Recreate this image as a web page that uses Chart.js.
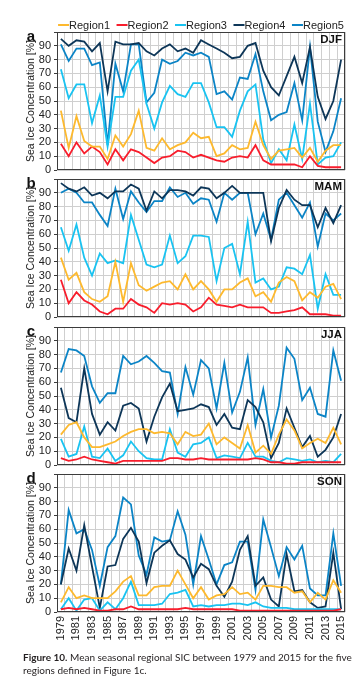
<!DOCTYPE html>
<html>
<head>
<meta charset="utf-8">
<script src="https://cdn.jsdelivr.net/npm/chart.js@4.4.1/dist/chart.umd.min.js"></script>
<style>
  html, body { margin: 0; padding: 0; background: #fff; }
  #wrap { position: relative; width: 362px; height: 686px; overflow: hidden; }
  #wrap canvas { position: absolute; left: 0; }
  #caption {
    position: absolute; left: 23px; top: 651px; width: 335px;
    font: 10px/12.5px Lato, "Open Sans", sans-serif; color: #231f20;
  }
</style>
</head>
<body>
<div id="wrap">
  <canvas id="panelA"></canvas>
  <canvas id="panelB"></canvas>
  <canvas id="panelC"></canvas>
  <canvas id="panelD"></canvas>
  <div id="caption"><b>Figure 10.</b> Mean seasonal regional SIC between 1979 and 2015 for the five regions defined in Figure 1c.</div>
</div>
<script>
// Years on the x axis
const years = [
  "1979", "1980", "1981", "1982", "1983", "1984", "1985", "1986", "1987", "1988",
  "1989", "1990", "1991", "1992", "1993", "1994", "1995", "1996", "1997", "1998",
  "1999", "2000", "2001", "2002", "2003", "2004", "2005", "2006", "2007", "2008",
  "2009", "2010", "2011", "2012", "2013", "2014", "2015"
];

const regionNames = ["Region1", "Region2", "Region3", "Region4", "Region5"];
const regionColors = ["#fdb92e", "#f81d2c", "#19c3f1", "#0d3658", "#0b84c6"];
const yTicks = [0, 10, 20, 30, 40, 50, 60, 70, 80, 90];

// DJF (winter) SIC, %
const djfRegion1 = [43, 16, 39, 21, 17, 17, 8, 25, 17, 26, 43, 16, 14, 23, 15, 18,
  20, 27, 23, 24, 10, 12, 18, 15, 16, 35, 18, 8, 14, 15, 16, 9, 16, 6, 14, 18, 18];
const djfRegion2 = [19, 10, 20, 12, 17, 13, 4, 15, 7, 15, 13, 9, 5, 9, 10, 14,
  13, 9, 11, 9, 7, 6, 9, 10, 9, 18, 7, 4, 4, 4, 4, 2, 10, 3, 2, 2, 2];
const djfRegion3 = [73, 52, 62, 62, 34, 54, 17, 53, 53, 72, 80, 48, 30, 49, 61, 55,
  53, 63, 63, 49, 31, 31, 24, 43, 57, 62, 22, 5, 15, 7, 33, 8, 48, 4, 9, 10, 20];
const djfRegion4 = [95, 90, 94, 93, 86, 92, 57, 93, 91, 91, 92, 86, 83, 88, 91, 86,
  88, 85, 94, 91, 88, 85, 81, 82, 90, 92, 72, 60, 54, 68, 82, 63, 89, 53, 37, 50, 80];
const djfRegion5 = [91, 79, 88, 88, 76, 78, 18, 77, 57, 91, 91, 49, 56, 80, 77, 79,
  85, 83, 85, 82, 55, 57, 51, 67, 66, 84, 57, 36, 40, 42, 63, 36, 89, 35, 13, 28, 52];

// MAM (spring)
const mamRegion1 = [43, 27, 32, 18, 13, 11, 15, 40, 11, 39, 23, 19, 22, 25, 26, 20,
  31, 20, 26, 20, 11, 20, 20, 25, 28, 15, 18, 11, 25, 29, 26, 12, 18, 14, 22, 24, 13];
const mamRegion2 = [27, 10, 18, 12, 9, 4, 2, 6, 6, 13, 9, 7, 3, 10, 9, 10,
  9, 4, 7, 14, 9, 8, 7, 9, 7, 7, 7, 3, 3, 4, 5, 7, 2, 2, 2, 1, 1];
const mamRegion3 = [65, 48, 67, 43, 30, 46, 39, 41, 39, 74, 56, 38, 36, 38, 59, 39,
  44, 59, 59, 58, 26, 50, 53, 31, 69, 25, 28, 20, 22, 36, 35, 31, 45, 6, 31, 16, 16];
const mamRegion4 = [97, 93, 91, 94, 88, 90, 86, 91, 91, 96, 93, 77, 91, 86, 92, 92,
  91, 88, 94, 93, 86, 90, 95, 90, 90, 90, 90, 55, 79, 92, 85, 81, 81, 65, 79, 68, 81];
const mamRegion5 = [90, 93, 90, 83, 83, 74, 66, 93, 71, 91, 83, 76, 84, 84, 94, 87,
  90, 82, 86, 85, 69, 90, 85, 90, 90, 60, 75, 56, 85, 90, 81, 72, 83, 51, 75, 70, 75];

// JJA (summer)
const jjaRegion1 = [22, 29, 31, 20, 13, 13, 15, 17, 21, 24, 26, 26, 23, 24, 23, 15,
  24, 21, 22, 30, 15, 20, 16, 12, 29, 9, 14, 8, 22, 33, 25, 12, 16, 19, 16, 27, 15];
const jjaRegion2 = [5, 3, 4, 6, 4, 3, 2, 1, 3, 3, 3, 3, 3, 3, 5, 5,
  4, 4, 5, 4, 4, 4, 4, 4, 4, 5, 4, 2, 2, 1, 1, 2, 2, 2, 2, 2, 2];
const jjaRegion3 = [19, 6, 8, 28, 6, 5, 12, 3, 7, 17, 10, 5, 4, 4, 26, 9,
  6, 15, 16, 20, 5, 7, 6, 5, 16, 6, 6, 3, 2, 5, 4, 3, 4, 2, 3, 2, 8];
const jjaRegion4 = [56, 34, 31, 70, 37, 22, 31, 25, 43, 45, 41, 17, 35, 49, 59, 39,
  40, 41, 44, 42, 29, 37, 27, 26, 47, 42, 31, 5, 16, 41, 27, 13, 21, 6, 11, 20, 37];
const jjaRegion5 = [67, 84, 83, 79, 57, 45, 52, 52, 79, 73, 75, 79, 74, 68, 67, 37,
  71, 51, 76, 70, 41, 74, 38, 53, 78, 29, 55, 20, 43, 85, 77, 47, 56, 37, 35, 83, 61];

// SON (autumn)
const sonRegion1 = [7, 18, 10, 12, 10, 10, 10, 15, 22, 26, 12, 12, 18, 19, 19, 30,
  20, 10, 18, 9, 12, 13, 18, 13, 14, 9, 19, 19, 18, 18, 14, 15, 7, 14, 9, 23, 14];
const sonRegion2 = [2, 3, 2, 3, 2, 1, 1, 2, 2, 4, 2, 2, 2, 2, 2, 2,
  3, 2, 2, 2, 2, 2, 2, 1, 1, 1, 1, 1, 1, 1, 1, 1, 1, 1, 1, 1, 2];
const sonRegion3 = [2, 10, 1, 9, 10, 1, 7, 2, 10, 22, 5, 5, 5, 6, 13, 14,
  16, 4, 5, 4, 5, 5, 6, 6, 5, 7, 4, 3, 3, 3, 2, 2, 2, 2, 2, 2, 2];
const sonRegion4 = [20, 46, 30, 63, 33, 3, 33, 34, 53, 61, 51, 21, 43, 48, 52, 42,
  38, 25, 35, 31, 19, 11, 22, 45, 55, 19, 25, 9, 4, 42, 15, 16, 7, 3, 4, 43, 2];
const sonRegion5 = [20, 74, 57, 60, 45, 19, 47, 55, 83, 78, 41, 27, 54, 51, 52, 73,
  56, 20, 55, 38, 20, 34, 36, 51, 51, 16, 67, 47, 26, 47, 38, 48, 17, 12, 12, 57, 19];

const FONT = '"Liberation Sans", Arial, sans-serif';
const panelHeight = 138;
const padTop = 20;

// Draws the frame, panel letter, season name and (on the first panel) the legend
const panelDecor = {
  id: "panelDecor",
  afterDatasetsDraw(chart, args, opts) {
    const a = chart.chartArea;
    const ctx = chart.ctx;
    ctx.save();
    ctx.strokeStyle = "#3c3c3c";
    ctx.lineWidth = 1;
    ctx.strokeRect(Math.round(a.left) + 0.5, Math.round(a.top) + 0.5,
      Math.round(a.width) - 1, Math.round(a.height) - 1);

    ctx.fillStyle = "#111";
    ctx.textBaseline = "alphabetic";
    ctx.font = "bold 15px " + FONT;
    ctx.textAlign = "center";
    ctx.fillText(opts.letter, 31, a.top + 8.5);

    ctx.font = "bold 11.5px " + FONT;
    ctx.textAlign = "right";
    ctx.fillText(opts.season, a.right - 3, a.top + 10.5);

    if (opts.legend) {
      ctx.font = "11px " + FONT;
      const items = chart.data.datasets.map(d => ({
        text: d.label, color: d.borderColor, w: ctx.measureText(d.label).width
      }));
      const lineW = 11;
      const gap = 6.5;
      const total = items.reduce((s, it) => s + lineW + it.w, 0) + gap * (items.length - 1);
      let x = (a.left + a.right) / 2 - total / 2;
      const y = a.top - 7;
      ctx.textAlign = "left";
      ctx.textBaseline = "middle";
      items.forEach(it => {
        ctx.strokeStyle = it.color;
        ctx.lineWidth = 2;
        ctx.beginPath();
        ctx.moveTo(x, y);
        ctx.lineTo(x + lineW, y);
        ctx.stroke();
        ctx.fillStyle = "#222";
        ctx.fillText(it.text, x + lineW, y + 0.5);
        x += lineW + it.w + gap;
      });
    }
    ctx.restore();
  }
};

function makePanel(id, top, series, letter, season, isFirst, isLast) {
  const canvas = document.getElementById(id);
  const topPad = isFirst ? top : padTop;
  const bottomPad = isLast ? 0 : 12;
  const xAxisH = isLast ? 40 : 0;
  const h = topPad + panelHeight + bottomPad + xAxisH;
  canvas.width = 362;
  canvas.height = h;
  canvas.style.top = (top - topPad) + "px";
  canvas.style.width = "362px";
  canvas.style.height = h + "px";

  return new Chart(canvas.getContext("2d"), {
    type: "line",
    data: {
      labels: years,
      datasets: series.map((vals, i) => ({
        label: regionNames[i],
        data: vals,
        borderColor: regionColors[i],
        backgroundColor: regionColors[i],
        borderWidth: 1.8,
        pointRadius: 0,
        tension: 0,
        fill: false
      }))
    },
    options: {
      responsive: false,
      animation: false,
      layout: { padding: { top: topPad, bottom: bottomPad, left: 0, right: 17 } },
      plugins: {
        legend: { display: false },
        tooltip: { enabled: false },
        panelDecor: { letter: letter, season: season, legend: isFirst }
      },
      scales: {
        x: {
          offset: true,
          grid: { offset: true, color: "#cfcfcf", lineWidth: 1, drawTicks: false },
          border: { display: false },
          ticks: {
            display: isLast,
            autoSkip: false,
            maxRotation: 90,
            minRotation: 90,
            padding: 4,
            color: "#222",
            font: { family: FONT, size: 11 },
            callback: (val, idx) => (idx % 2 === 0 ? years[idx] : "")
          },
          afterFit: s => { s.height = xAxisH; }
        },
        y: {
          min: 0,
          max: 100,
          afterBuildTicks: s => {
            s.ticks = yTicks.concat([100]).map(v => ({ value: v }));
          },
          grid: { color: "#cfcfcf", lineWidth: 1, tickLength: 3, tickColor: "#3c3c3c" },
          border: { display: false },
          ticks: {
            autoSkip: false,
            padding: 3,
            color: "#222",
            font: { family: FONT, size: 11 },
            callback: v => (yTicks.includes(v) ? String(v) : "")
          },
          title: {
            display: true,
            text: "Sea Ice Concentration [%]",
            color: "#222",
            font: { family: FONT, size: 10.5 },
            padding: { top: 25, bottom: 0 }
          },
          afterFit: s => { s.width = 57; }
        }
      }
    },
    plugins: [panelDecor]
  });
}

makePanel("panelA", 32, [djfRegion1, djfRegion2, djfRegion3, djfRegion4, djfRegion5], "a", "DJF", true, false);
makePanel("panelB", 179, [mamRegion1, mamRegion2, mamRegion3, mamRegion4, mamRegion5], "b", "MAM", false, false);
makePanel("panelC", 327, [jjaRegion1, jjaRegion2, jjaRegion3, jjaRegion4, jjaRegion5], "c", "JJA", false, false);
makePanel("panelD", 474, [sonRegion1, sonRegion2, sonRegion3, sonRegion4, sonRegion5], "d", "SON", false, true);
</script>
</body>
</html>
